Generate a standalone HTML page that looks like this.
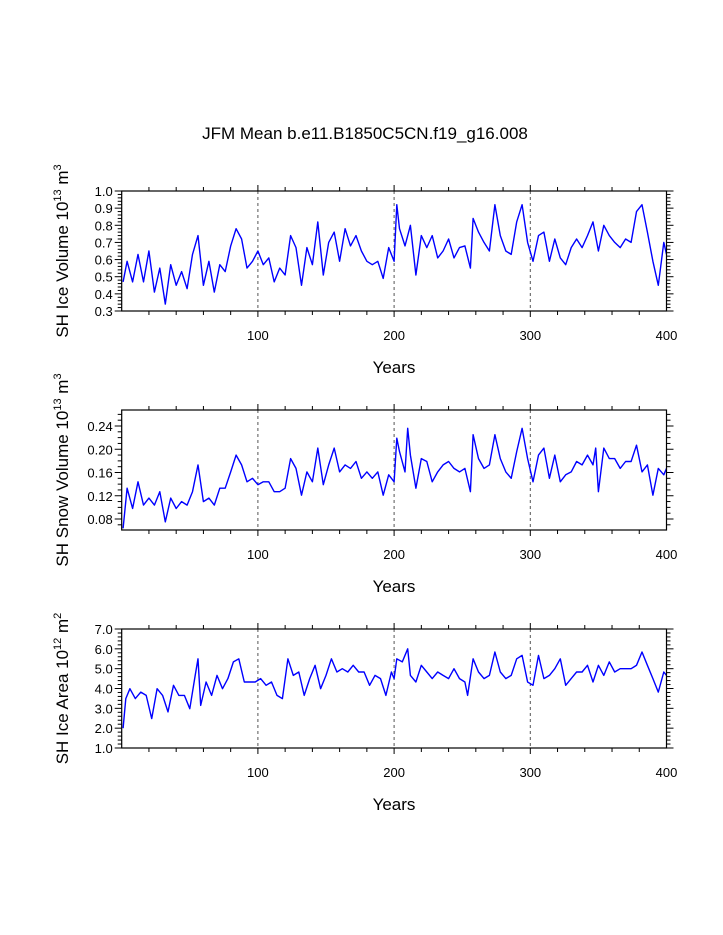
<!DOCTYPE html>
<html><head><meta charset="utf-8"><style>
body{margin:0;background:#fff;}
svg{display:block;font-family:"Liberation Sans",sans-serif;}
</style></head><body>
<svg id="chart" width="723" height="935" viewBox="0 0 723 935">
<text x="365" y="139" font-size="17" text-anchor="middle">JFM Mean b.e11.B1850C5CN.f19_g16.008</text>
</svg>
<script>
const iceYears=[1,4,8,12,16,20,24,28,32,36,40,44,48,52,56,60,64,68,72,76,80,84,88,92,96,100,104,108,112,116,120,124,128,132,136,140,144,148,152,156,160,164,168,172,176,180,184,188,192,196,200,202,204,208,212,216,220,224,228,232,236,240,244,248,252,256,258,262,266,270,274,278,282,286,290,294,298,302,306,310,314,318,322,326,330,334,338,342,346,350,354,358,362,366,370,374,378,382,386,390,394,398,400];
const iceVol=[0.47,0.59,0.47,0.63,0.47,0.65,0.41,0.55,0.34,0.57,0.45,0.53,0.43,0.63,0.74,0.45,0.59,0.41,0.57,0.53,0.68,0.78,0.72,0.55,0.59,0.65,0.57,0.61,0.47,0.55,0.51,0.74,0.67,0.45,0.67,0.57,0.82,0.51,0.70,0.76,0.59,0.78,0.68,0.74,0.65,0.59,0.57,0.59,0.49,0.67,0.59,0.92,0.78,0.68,0.80,0.51,0.74,0.67,0.74,0.61,0.65,0.72,0.61,0.67,0.68,0.55,0.84,0.76,0.70,0.65,0.92,0.74,0.65,0.63,0.82,0.92,0.70,0.59,0.74,0.76,0.59,0.72,0.61,0.57,0.67,0.72,0.67,0.74,0.82,0.65,0.80,0.74,0.70,0.67,0.72,0.70,0.88,0.92,0.76,0.59,0.45,0.70,0.63];
const snowYears=[1,4,8,12,16,20,24,28,32,36,40,44,48,52,56,60,64,68,72,76,80,84,88,92,96,100,104,108,112,116,120,124,128,132,136,140,144,148,152,156,160,164,168,172,176,180,184,188,192,196,200,202,204,208,210,212,216,220,224,228,232,236,240,244,248,252,256,258,262,266,270,274,278,282,286,290,294,298,302,306,310,314,318,322,326,330,334,338,342,346,348,350,354,358,362,366,370,374,378,382,386,390,394,398,400];
const snowVol=[0.064,0.133,0.098,0.144,0.104,0.116,0.104,0.127,0.075,0.116,0.098,0.11,0.104,0.127,0.173,0.11,0.116,0.104,0.133,0.133,0.161,0.19,0.173,0.144,0.15,0.139,0.144,0.144,0.127,0.127,0.133,0.184,0.167,0.121,0.161,0.144,0.202,0.139,0.173,0.202,0.161,0.173,0.167,0.179,0.15,0.161,0.15,0.161,0.121,0.156,0.144,0.219,0.196,0.161,0.236,0.19,0.133,0.184,0.179,0.144,0.161,0.173,0.179,0.167,0.161,0.167,0.127,0.225,0.184,0.167,0.173,0.225,0.184,0.161,0.15,0.196,0.236,0.184,0.144,0.19,0.202,0.15,0.19,0.144,0.156,0.161,0.179,0.173,0.19,0.173,0.202,0.127,0.202,0.184,0.184,0.167,0.179,0.179,0.207,0.161,0.173,0.121,0.167,0.156,0.167];
const areaYears=[1,3,6,10,14,18,22,26,30,34,38,42,46,50,54,56,58,62,66,70,74,78,82,86,90,94,98,102,106,110,114,118,122,126,130,134,138,142,146,150,154,158,162,166,170,174,178,182,186,190,194,198,200,202,206,210,212,216,220,224,228,232,236,240,244,248,252,254,258,262,266,270,274,278,282,286,290,294,298,302,306,310,314,318,322,326,330,334,338,342,346,350,354,358,362,366,370,374,378,382,386,390,394,398,400];
const iceArea=[2.0,3.49,3.99,3.49,3.82,3.65,2.48,3.99,3.65,2.82,4.16,3.65,3.65,2.98,4.66,5.5,3.15,4.33,3.65,4.66,3.99,4.5,5.34,5.5,4.33,4.33,4.33,4.5,4.16,4.33,3.65,3.49,5.5,4.66,4.83,3.65,4.5,5.17,3.99,4.66,5.5,4.83,5.0,4.83,5.17,4.83,4.83,4.16,4.66,4.5,3.65,4.83,4.5,5.5,5.34,6.0,4.66,4.33,5.17,4.83,4.5,4.83,4.66,4.5,5.0,4.5,4.33,3.65,5.5,4.83,4.5,4.66,5.84,4.83,4.5,4.66,5.5,5.67,4.33,4.16,5.67,4.5,4.66,5.0,5.5,4.16,4.5,4.83,4.83,5.17,4.33,5.17,4.66,5.34,4.83,5.0,5.0,5.0,5.17,5.84,5.17,4.5,3.82,4.83,4.66];
const iceTicks=["0.3","0.4","0.5","0.6","0.7","0.8","0.9","1.0"];
const snowTicks=["0.08","0.12","0.16","0.20","0.24"];
const areaTicks=["1.0","2.0","3.0","4.0","5.0","6.0","7.0"];
const xTicks=[100,200,300,400];

const NS="http://www.w3.org/2000/svg";
const svg=document.getElementById('chart');
function mk(tag,attrs,parent){const e=document.createElementNS(NS,tag);for(const k in attrs)e.setAttribute(k,attrs[k]);(parent||svg).appendChild(e);return e;}
const X0=121.7,X1=666.5;
function xs(yr){return X0+(X1-X0)*yr/400;}

function panel(cfg){
  const g=mk('g',{});
  
  
  const ys=v=>cfg.yTop+(cfg.yBot-cfg.yTop)*(cfg.vmax-v)/(cfg.vmax-cfg.vmin);
  const top=cfg.boxTop,bot=cfg.boxBot;
  [100,200,300].forEach(y=>{
    const l=mk('line',{x1:xs(y),x2:xs(y),y1:top,y2:bot,stroke:'#555','stroke-width':1,'stroke-dasharray':'3,3'},g);
    
    
  });
  for(let yr=20;yr<400;yr+=20){
    const len=(yr%100===0)?6:4;
    mk('line',{x1:xs(yr),x2:xs(yr),y1:top,y2:top-len,stroke:'#000','stroke-width':1},g);
    mk('line',{x1:xs(yr),x2:xs(yr),y1:bot,y2:bot+len,stroke:'#000','stroke-width':1},g);
  }
  xTicks.forEach(t=>{
    const tx=mk('text',{x:xs(t),y:bot+29,'font-size':13,'text-anchor':'middle'},g);
    tx.textContent=t;
    
    
  });
  for(let k=-20;k<200;k++){
    const v=cfg.majStart+k*cfg.minor;
    const yy=ys(v); if(yy<top-0.5||yy>bot+0.5) continue;
    const q=k*cfg.minor/cfg.major;
    const isMaj=Math.abs(q-Math.round(q))<1e-6;
    const len=isMaj?7:4;
    mk('line',{x1:X0,x2:X0-len,y1:yy,y2:yy,stroke:'#000','stroke-width':1},g);
    mk('line',{x1:X1,x2:X1+len,y1:yy,y2:yy,stroke:'#000','stroke-width':1},g);
  }
  cfg.labels.forEach(s=>{
    const v=parseFloat(s);
    const tx=mk('text',{x:X0-9,y:ys(v)+5,'font-size':13,'text-anchor':'end'},g);
    tx.textContent=s;
    
    
  });
  const pts=cfg.years.map((yr,i)=>xs(yr).toFixed(1)+','+ys(cfg.values[i]).toFixed(1)).join(' ');
  const pl=mk('polyline',{points:pts,fill:'none',stroke:'#0000ff','stroke-width':1.4,'stroke-linejoin':'round'},g);
  
  
  const r=mk('rect',{x:X0,y:top,width:X1-X0,height:bot-top,fill:'none',stroke:'#000','stroke-width':1.2},g);
  
  
  const xt=mk('text',{x:394,y:bot+62,'font-size':17,'text-anchor':'middle'},g);
  xt.textContent='Years';
  
  
  const cy=(top+bot)/2;
  const yt=mk('text',{x:0,y:0,'font-size':17,'text-anchor':'middle',transform:'translate(68,'+cy+') rotate(-90)'},g);
  
  
  const t1=mk('tspan',{},yt);t1.textContent=cfg.title+' 10';
  const t2=mk('tspan',{'font-size':11,dy:-7},yt);t2.textContent=cfg.exp1;
  const t3=mk('tspan',{dy:7},yt);t3.textContent=' m';
  const t4=mk('tspan',{'font-size':11,dy:-7},yt);t4.textContent=cfg.exp2;
}
panel({name:'ice-volume',years:iceYears,values:iceVol,labels:iceTicks,vmin:0.3,vmax:1.0,yTop:191,yBot:311,boxTop:191,boxBot:311,minor:0.02,major:0.1,majStart:0.3,title:'SH Ice Volume',exp1:'13',exp2:'3'});
panel({name:'snow-volume',years:snowYears,values:snowVol,labels:snowTicks,vmin:0.08,vmax:0.24,yTop:426,yBot:519,boxTop:410,boxBot:530,minor:0.01,major:0.04,majStart:0.08,title:'SH Snow Volume',exp1:'13',exp2:'3'});
panel({name:'ice-area',years:areaYears,values:iceArea,labels:areaTicks,vmin:1.0,vmax:7.0,yTop:629,yBot:748,boxTop:629,boxBot:748,minor:0.2,major:1.0,majStart:1.0,title:'SH Ice Area',exp1:'12',exp2:'2'});
</script>
</body></html>
